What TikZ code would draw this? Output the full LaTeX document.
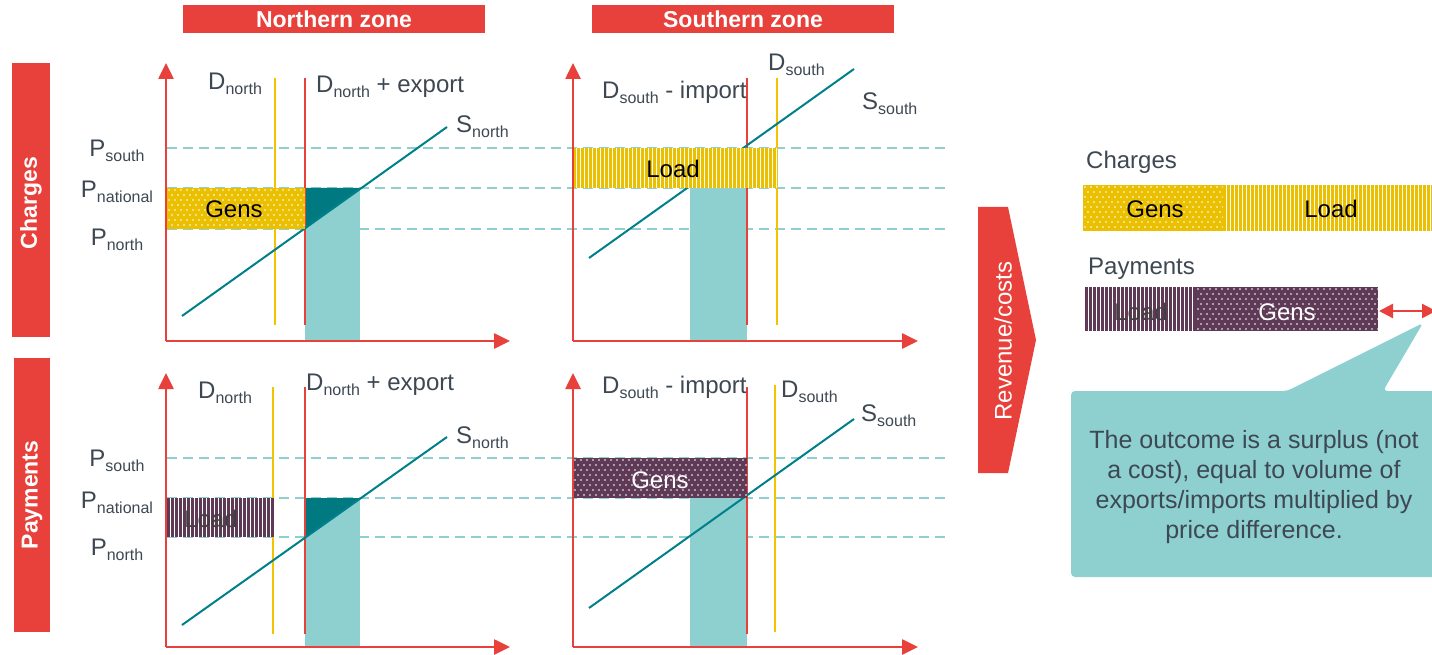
\documentclass[tikz,border=0pt]{standalone}
\usepackage{fontspec}
\setmainfont{Liberation Sans}
\usetikzlibrary{arrows.meta}
\definecolor{zred}{HTML}{E8403A}
\definecolor{zyel}{HTML}{EBC000}
\definecolor{zteal}{HTML}{8ED0D0}
\definecolor{zdark}{HTML}{007A80}
\definecolor{zline}{HTML}{00808A}
\definecolor{zpur}{HTML}{5E3A56}
\definecolor{zgrey}{HTML}{3E4852}
\definecolor{zlgold}{HTML}{F2C400}
\newcommand{\lowsub}[1]{\raisebox{-5pt}{\fontsize{16}{16}\selectfont #1}}
\newcommand{\mydots}[5]{%
  \fill[#5] (#1,#2) rectangle (#3,#4);
  \begin{scope}
    \clip (#1,#2) rectangle (#3,#4);
    \pgfmathtruncatemacro{\nxd}{(#3-#1)/6+1}
    \pgfmathtruncatemacro{\nyd}{(#4-#2)/5+1}
    \foreach \i in {0,...,\nxd}{
      \foreach \j in {0,...,\nyd}{
        \fill[white] ({#1+2+\i*6+mod(\j,2)*3},{#2+2+\j*5}) circle (0.9pt);
      }
    }
  \end{scope}
}
\newcommand{\mystripes}[5]{%
  \fill[white] (#1,#2) rectangle (#3,#4);
  \begin{scope}
    \clip (#1,#2) rectangle (#3,#4);
    \pgfmathtruncatemacro{\nxs}{(#3-#1)/4+1}
    \foreach \i in {0,...,\nxs}{
      \fill[#5] ({#1+\i*4},#2) rectangle ({#1+\i*4+2.6},#4);
    }
  \end{scope}
}
\begin{document}
\begin{tikzpicture}[x=1pt,y=-1pt,
  lab/.style={font=\fontsize{24}{28}\selectfont, text=zgrey, inner sep=0pt},
  ban/.style={font=\fontsize{23}{26}\selectfont\bfseries, text=white, inner sep=0pt},
  axis/.style={draw=zred, line width=2.6pt, -{Triangle[length=16pt,width=15pt]}},
  dline/.style={draw=zteal, line width=2pt, dash pattern=on 10pt off 6pt},
  yline/.style={draw=zlgold, line width=2pt},
  rline/.style={draw=zred, line width=2pt},
  sline/.style={draw=zline, line width=2pt},
  col/.style={fill=zteal},
  tri/.style={fill=zdark}
]
\useasboundingbox (0,0) rectangle (1432,655);
\fill[white] (0,0) rectangle (1432,655);

% banners
\fill[zred] (183,5) rectangle (485,33);
\node[ban] (bn) at (334,19) {Northern zone};
\fill[zred] (592,5) rectangle (894,33);
\node[ban] (bs) at (743,19) {Southern zone};
\fill[zred] (12,63) rectangle (50,337);
\node[ban, rotate=90] (bc) at (31,203) {Charges};
\fill[zred] (14,358) rectangle (50,632);
\node[ban, rotate=90] (bp) at (32,495) {Payments};

% dashed price lines
\foreach \yy in {148,188,229,458,498,537}{
  \draw[dline] (167,\yy) -- (950,\yy);
}

% teal columns
\fill[col] (305,188) rectangle (360,341);
\fill[col] (690,188) rectangle (747,341);
\fill[col] (305,498) rectangle (360,647);
\fill[col] (690,498) rectangle (747,647);
\fill[tri] (305,188) -- (360,188) -- (305,229) -- cycle;
\fill[tri] (305,498) -- (360,498) -- (305,537) -- cycle;

% demand and supply lines
\draw[yline] (275,78) -- (275,325);
\draw[rline] (305,78) -- (305,325);
\draw[sline] (182,316) -- (447,127);
\draw[rline] (747,78) -- (747,325);
\draw[yline] (777,78) -- (777,325);
\draw[sline] (589,258) -- (854,69);
\draw[yline] (273,387) -- (273,634);
\draw[rline] (305,387) -- (305,634);
\draw[sline] (182,625) -- (447,437);
\draw[rline] (747,387) -- (747,634);
\draw[yline] (775,385) -- (775,632);
\draw[sline] (589,608) -- (854,419);

% boxes in charts
\mydots{167}{188}{305}{229}{zyel}
\mystripes{573}{148}{777}{188}{zyel}
\mystripes{167}{498}{274}{537}{zpur}
\mydots{573}{458}{747}{498}{zpur}

% axes
\coordinate (o1) at (166,341); \coordinate (y1) at (166,63); \coordinate (x1) at (510,341);
\coordinate (o2) at (573,341); \coordinate (y2) at (573,63); \coordinate (x2) at (918,341);
\coordinate (o3) at (166,647); \coordinate (y3) at (166,373); \coordinate (x3) at (510,647);
\coordinate (o4) at (573,647); \coordinate (y4) at (573,373); \coordinate (x4) at (918,647);
\foreach \k in {1,2,3,4}{
  \draw[axis] (o\k) -- (y\k);
  \draw[axis] (o\k) -- (x\k);
}

% chart labels
\node[lab, anchor=base west] (dn1) at (208,90) {D\lowsub{north}};
\node[lab, anchor=base west] (dne1) at (316,93) {D\lowsub{north} + export};
\node[lab, anchor=base west] (sn1) at (456,133) {S\lowsub{north}};
\node[lab, anchor=base] (ps1) at (117,157) {P\lowsub{south}};
\node[lab, anchor=base] (pna1) at (117,198) {P\lowsub{national}};
\node[lab, anchor=base] (pno1) at (117,245) {P\lowsub{north}};
\node[lab, text=black, anchor=base] (g1) at (234,218) {Gens};

\node[lab, anchor=base west] (dsi2) at (602,99) {D\lowsub{south} - import};
\node[lab, anchor=base west] (ds2) at (768,71) {D\lowsub{south}};
\node[lab, anchor=base west] (ss2) at (862,110) {S\lowsub{south}};
\node[lab, text=black, anchor=base] (l2) at (673,178) {Load};

\node[lab, anchor=base west] (dn3) at (198,398) {D\lowsub{north}};
\node[lab, anchor=base west] (dne3) at (306,390) {D\lowsub{north} + export};
\node[lab, anchor=base west] (sn3) at (456,443) {S\lowsub{north}};
\node[lab, anchor=base] (ps3) at (117,466) {P\lowsub{south}};
\node[lab, anchor=base] (pna3) at (117,508) {P\lowsub{national}};
\node[lab, anchor=base] (pno3) at (117,555) {P\lowsub{north}};
\node[lab, text=black!75, anchor=base] (l3) at (211,527) {Load};

\node[lab, anchor=base west] (dsi4) at (602,393) {D\lowsub{south} - import};
\node[lab, anchor=base west] (ds4) at (781,397) {D\lowsub{south}};
\node[lab, anchor=base west] (ss4) at (861,421) {S\lowsub{south}};
\node[lab, text=white, anchor=base] (g4) at (660,488) {Gens};

% revenue/costs arrow
\fill[zred] (978,207) -- (1008,207) -- (1036,340) -- (1008,473) -- (978,473) -- cycle;
\node[lab, text=white, rotate=90] (rc) at (1003,341) {Revenue/costs};

% right panel
\node[lab, anchor=base west] (ch) at (1086,169) {Charges};
\mydots{1083}{185}{1223}{231}{zyel}
\mystripes{1223}{185}{1436}{231}{zyel}
\node[lab, text=black, anchor=base] (cg) at (1155,218) {Gens};
\node[lab, text=black, anchor=base] (cl) at (1331,218) {Load};

\node[lab, anchor=base west] (pm) at (1088,274) {Payments};
\mystripes{1085}{287}{1196}{331}{zpur}
\mydots{1196}{287}{1378}{331}{zpur}
\node[lab, text=black!75, anchor=base] (pl) at (1141,320) {Load};
\node[lab, text=white, anchor=base] (pg) at (1287,320) {Gens};

\coordinate (da1) at (1379,311);
\coordinate (da2) at (1436,311);
\draw[zred, line width=2.4pt, {Triangle[length=14pt,width=14pt]}-{Triangle[length=14pt,width=14pt]}] (da1) -- (da2);

% callout
\fill[zteal, rounded corners=4pt] (1071,391) -- (1287,391) -- (1423,323) -- (1383,391) -- (1440,391) -- (1440,577) -- (1071,577) -- cycle;
\node[lab, font=\fontsize{25}{30}\selectfont, align=center] (co) at (1254,487)
  {The outcome is a surplus (not\\a cost), equal to volume of\\exports/imports multiplied by\\price difference.};
\end{tikzpicture}
\end{document}
